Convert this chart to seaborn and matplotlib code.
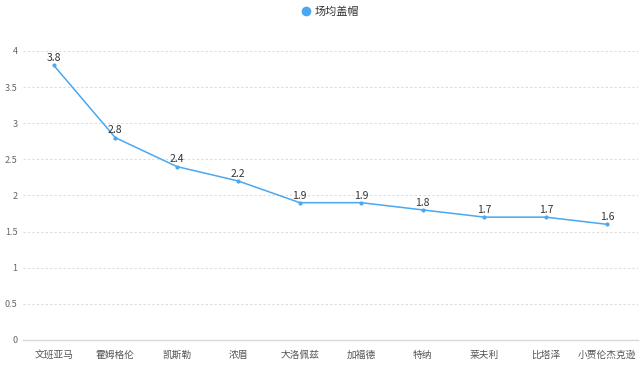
import matplotlib
matplotlib.use("Agg")
import matplotlib.pyplot as plt
import seaborn as sns
import pandas as pd

players = ["文班亚马", "霍姆格伦", "凯斯勒", "浓眉", "大洛佩兹",
           "加福德", "特纳", "莱夫利", "比塔泽", "小贾伦杰克逊"]
blocks = [3.8, 2.8, 2.4, 2.2, 1.9, 1.9, 1.8, 1.7, 1.7, 1.6]
series_name = "场均盖帽"

df = pd.DataFrame({"player": players, "value": blocks})

sns.set_theme(style="white")
plt.rcParams["font.family"] = ["Noto Sans CJK SC", "DejaVu Sans"]

color = "#4aa8f0"
fig = plt.figure(figsize=(6.4, 3.65), dpi=100)
ax = fig.add_axes([0.036, 0.0685, 0.961, 0.792])

sns.lineplot(data=df, x="player", y="value", sort=False, ax=ax,
             color=color, linewidth=1.1, marker="o", markersize=3,
             markeredgewidth=0, label=series_name)

for i, v in enumerate(blocks):
    ax.text(i, v + 0.03, f"{v:.1f}", ha="center", va="bottom",
            fontsize=7.5, color="#333333")

ax.set_xlim(-0.5, len(players) - 0.5)
ax.set_ylim(0, 4)
ax.set_yticks([0, 0.5, 1, 1.5, 2, 2.5, 3, 3.5, 4])
ax.set_yticklabels(["0", "0.5", "1", "1.5", "2", "2.5", "3", "3.5", "4"])
ax.set_xlabel("")
ax.set_ylabel("")

ax.grid(axis="y", color="#dddddd", linestyle=(0, (2, 2)), linewidth=0.8)
ax.grid(axis="x", visible=False)
for s in ["top", "right", "left"]:
    ax.spines[s].set_visible(False)
ax.spines["bottom"].set_color("#d9d9d9")
ax.spines["bottom"].set_linewidth(1.0)

ax.tick_params(axis="x", length=3, color="#d9d9d9", labelsize=7,
               labelcolor="#555555", pad=4)
ax.tick_params(axis="y", length=0, labelsize=6.5, labelcolor="#666666", pad=4)

leg = ax.legend(loc="center", bbox_to_anchor=(0.5, 1.135), frameon=False,
                fontsize=8, handlelength=0.8, handletextpad=0.4,
                labelcolor="#333333")
for h in leg.legend_handles:
    h.set_linestyle("")
    h.set_marker("o")
    h.set_markersize(7)

fig.savefig("out.png", dpi=100)
